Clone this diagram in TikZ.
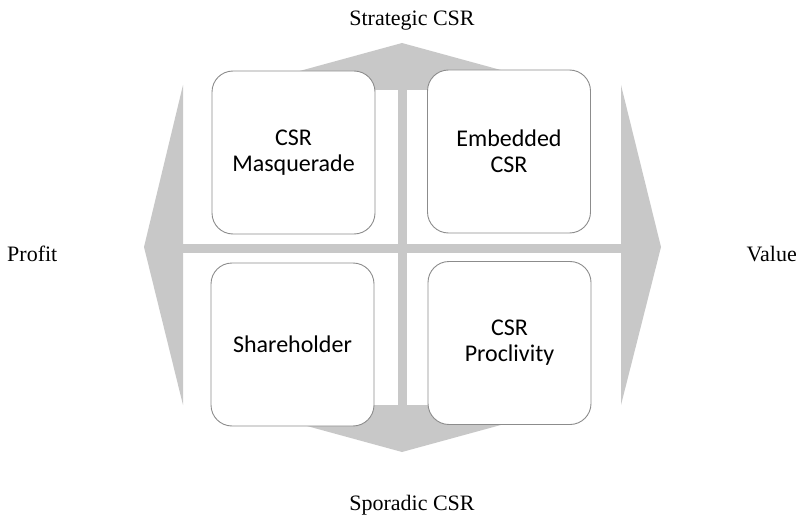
\documentclass[tikz,border=0pt]{standalone}
\usepackage{fontspec}
\setmainfont{Liberation Serif}
\newfontfamily\boxFont{Carlito}
\definecolor{arrowGray}{RGB}{200,200,200}
\definecolor{edgeGray}{RGB}{140,140,140}
\newcommand{\myArrows}{%%
  %% Draw the four arrow heads.
  \fill[arrowStyle] (L1) -- (L) -- (L2) -- cycle;
  \fill[arrowStyle] (R1) -- (R) -- (R2) -- cycle;
  \fill[arrowStyle] (T1) -- (T) -- (T2) -- cycle;
  \fill[arrowStyle] (B1) -- (B) -- (B2) -- cycle;
  %% Draw the cross between the quadrants.
  \fill[arrowStyle] (\xc-4.5,60) rectangle (\xc+4.5,420);
  \fill[arrowStyle] (L1 |- 0,\yc-4.5) rectangle (R2 |- 0,\yc+4.5);
}
\newcommand{\myBox}[3]{%%
  \node[boxStyle] (#1) at (#2) {#3};
}

\begin{document}
\begin{tikzpicture}[x=1pt,y=-1pt,%%
  arrowStyle/.style={fill=arrowGray},%%
  boxStyle/.style={draw=edgeGray,line width=0.9pt,fill=white,rounded corners=21pt,
    minimum width=163pt,minimum height=163pt,align=center,
    font=\boxFont\fontsize{24}{26}\selectfont},%%
  labelStyle/.style={inner sep=0pt,font=\fontsize{22}{26}\selectfont}
]
\useasboundingbox (0,0) rectangle (801,516);
%%
\pgfmathsetmacro{\xc}{402}
\pgfmathsetmacro{\yc}{248.5}
%% Corners of the arrow heads.
\coordinate (L) at (144,247);
\coordinate (L1) at (183,85);
\coordinate (L2) at (183,405);
\coordinate (R) at (661,247);
\coordinate (R1) at (621,85);
\coordinate (R2) at (621,405);
\coordinate (T) at (\xc,43);
\coordinate (T1) at (230,90);
\coordinate (T2) at (574,90);
\coordinate (B) at (\xc,452);
\coordinate (B1) at (230,405);
\coordinate (B2) at (574,405);
%%
\myArrows
%% The four quadrants.
\myBox{masquerade}{293.5,152.5}{CSR\\Masquerade}
\myBox{embedded}{509,151.5}{Embedded\\CSR}
\myBox{shareholder}{292.5,344.5}{Shareholder}
\myBox{proclivity}{509.5,343}{CSR\\Proclivity}
%% Labels of the axes.
\node[labelStyle,anchor=base] (strategic) at (412,26) {Strategic CSR};
\node[labelStyle,anchor=base] (sporadic) at (412,510) {Sporadic CSR};
\node[labelStyle,anchor=base west] (profit) at (7,261) {Profit};
\node[labelStyle,anchor=base east] (value) at (797,261) {Value};
\end{tikzpicture}
\end{document}
